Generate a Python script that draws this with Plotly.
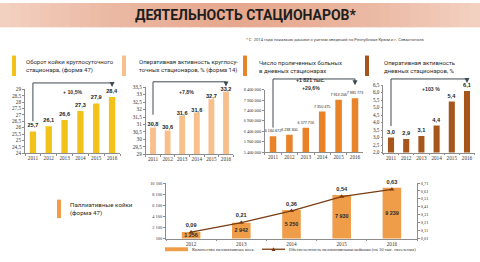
import plotly.graph_objects as go

W, H = 480, 262

# ---------------- data ----------------
years = ["2011", "2012", "2013", "2014", "2015", "2016"]
turnover = [25.7, 26.1, 26.6, 27.3, 27.9, 28.4]
turnover_labels = ["25,7", "26,1", "26,6", "27,3", "27,9", "28,4"]
surg_24h = [30.8, 30.6, 31.6, 31.8, 32.7, 33.2]
surg_24h_labels = ["30,8", "30,6", "31,6", "31,6", "32,7", "33,2"]
day_patients = [6160672, 6238300, 6577716, 7350475, 7913206, 7981773]
day_patients_labels = ["6 160 672", "6 238 300", "6 577 716", "7 350 475", "7 913 206", "7 981 773"]
surg_day = [3.0, 2.9, 3.1, 3.8, 5.4, 6.1]
surg_day_labels = ["3,0", "2,9", "3,1", "4,4", "5,4", "6,1"]

pal_years = ["2012", "2013", "2014", "2015", "2016"]
pal_beds = [1256, 2942, 5250, 7930, 9239]
pal_rate = [0.09, 0.21, 0.36, 0.54, 0.63]
pal_names = ["Количество паллиативных коек",
             "Обеспеченность паллиативными койками (на 10 тыс. населения)"]

bracket_texts = [["+ 10,5%"], ["+7,8%"], ["+1 821 тыс.", "+29,6%"], ["+103 %"]]
chart_titles = [
    "Оборот койки круглосуточного<br>стационара, (форма 47)",
    "Оперативная активность круглосу-<br>точных стационаров, % (форма 14)",
    "Число пролеченных больных<br>в дневных стационарах",
    "Оперативная активность<br>дневных стационаров, %",
]
colors = ["#F2C21B", "#F6BF8C", "#E8832A", "#A6561B"]
pal_bar_color = "#F09D4A"
pal_line_color = "#7A3C12"


def xd(a, b):
    return [a / W, b / W]


def yd(top, bottom):
    return [1 - bottom / H, 1 - top / H]


fig = go.Figure()

tick_font = dict(family="Liberation Serif", size=5.2, color="#333")
axis_common = dict(showline=True, linecolor="#8c8c8c", linewidth=0.8, ticks="outside",
                   ticklen=2, tickcolor="#8c8c8c", showgrid=False, zeroline=False,
                   tickfont=tick_font, fixedrange=True)

specs = [
    dict(x=(25, 120), y=(88.7, 154.3), r=(24, 29), dt=0.5, fmt="", vals=turnover, lab=turnover_labels),
    dict(x=(145.7, 233.3), y=(86.5, 155.5), r=(29, 33.5), dt=0.5, fmt="", vals=surg_24h, lab=surg_24h_labels),
    dict(x=(264.8, 363.2), y=(89, 153.3), r=(5400000, 8400000), dt=500000, fmt=",d", vals=day_patients, lab=day_patients_labels),
    dict(x=(383.4, 474.6), y=(84.3, 153.7), r=(2.0, 6.5), dt=0.5, fmt=".1f", vals=surg_day, lab=surg_day_labels),
]
brackets = [
    dict(line=1.10, tip=1.035, off=0.16, tx=2.5, ty=[1.04]),
    dict(line=1.08, tip=1.01, off=0.19, tx=2.3, ty=[1.01]),
    dict(line=1.17, tip=1.07, off=0.14, tx=2.3, ty=[1.235, 1.10]),
    dict(line=1.09, tip=1.03, off=0.17, tx=2.6, ty=[1.02]),
]

layout = dict(
    width=W, height=H, margin=dict(l=0, r=0, t=0, b=0),
    paper_bgcolor="white", plot_bgcolor="rgba(0,0,0,0)",
    separators=", ", showlegend=False, font=dict(family="Roboto", color="#333"),
)
shapes = []
annotations = []

for i, s in enumerate(specs):
    n = "" if i == 0 else str(i + 1)
    xa, ya = "x" + n, "y" + n
    layout["xaxis" + n] = dict(axis_common, domain=xd(*s["x"]), anchor=ya, type="category",
                               tickson="boundaries", tickangle=0)
    ya_d = dict(axis_common, domain=yd(*s["y"]), anchor=xa, range=list(s["r"]),
                tick0=s["r"][0], dtick=s["dt"])
    if s["fmt"]:
        ya_d["tickformat"] = s["fmt"]
    if i == 2:
        ya_d["tickfont"] = dict(family="Liberation Serif", size=4.3, color="#333")
    layout["yaxis" + n] = ya_d
    fig.add_trace(go.Bar(
        x=years, y=s["vals"], xaxis=xa, yaxis=ya, marker=dict(color=colors[i], line=dict(width=0)),
        width=0.4, text=s["lab"], textposition="outside", cliponaxis=False, constraintext="none",
        textfont=dict(family="Arial", size=3.7 if i == 2 else 5.6, color="#222",
                      weight="normal" if i == 2 else "bold"),
        showlegend=False, hoverinfo="skip"))

    b = brackets[i]
    r0, r1 = s["r"]
    start = (s["vals"][0] - r0) / (r1 - r0) + b["off"]
    lc = "#3E4A52"
    shapes.append(dict(type="line", xref=xa, yref=ya + " domain", x0=0, x1=0, y0=start, y1=b["line"],
                       line=dict(color=lc, width=1)))
    shapes.append(dict(type="line", xref=xa, yref=ya + " domain", x0=0, x1=5, y0=b["line"], y1=b["line"],
                       line=dict(color=lc, width=1)))
    shapes.append(dict(type="line", xref=xa, yref=ya + " domain", x0=5, x1=5, y0=b["line"], y1=b["tip"] + 0.03,
                       line=dict(color=lc, width=1)))
    annotations.append(dict(xref=xa, yref=ya + " domain", x=5, y=b["tip"], ax=0, ay=-3, text="",
                            showarrow=True, arrowhead=2, arrowsize=1, arrowwidth=1, arrowcolor=lc))
    for t, ty in zip(bracket_texts[i], b["ty"]):
        annotations.append(dict(xref=xa, yref=ya + " domain", x=b["tx"], y=ty, text="<b>" + t + "</b>",
                                showarrow=False, font=dict(family="Arial", size=5.2, color="#333")))

title_pos = [(12, 24), (122, 137), (243, 257), (365, 382)]
for i, (mx, tx) in enumerate(title_pos):
    shapes.append(dict(type="rect", xref="paper", yref="paper", x0=mx / W, x1=(mx + 4) / W,
                       y0=1 - 75 / H, y1=1 - 54 / H, fillcolor=colors[i], line=dict(width=0)))
    annotations.append(dict(xref="paper", yref="paper", x=tx / W, y=1 - 65 / H, xanchor="left",
                            yanchor="middle", align="left", text=chart_titles[i], showarrow=False,
                            font=dict(family="Roboto", size=6.0, color="#2a2a2a")))

# bottom chart
layout["xaxis5"] = dict(axis_common, domain=xd(166, 417), anchor="y5", type="category", tickson="boundaries",
                        tickangle=0, tickfont=dict(family="Liberation Serif", size=5.2, color="#333"))
layout["yaxis5"] = dict(axis_common, domain=yd(185, 242), anchor="x5", range=[100, 10100], tick0=100,
                        dtick=2000, tickformat=",d", tickfont=dict(family="Liberation Serif", size=4.4, color="#333"))
layout["yaxis6"] = dict(axis_common, domain=yd(185, 242), anchor="x5", overlaying="y5", side="right",
                        range=[0.01, 0.71], tick0=0.01, dtick=0.1, tickformat=".2f",
                        tickfont=dict(family="Liberation Serif", size=4.4, color="#333"))

fig.add_trace(go.Bar(x=pal_years, y=pal_beds, xaxis="x5", yaxis="y5", width=0.37,
                     marker=dict(color=pal_bar_color, line=dict(width=0)),
                     name=pal_names[0], hoverinfo="skip"))
fig.add_trace(go.Scatter(x=pal_years, y=[v / 2 for v in pal_beds], xaxis="x5", yaxis="y5", mode="text",
                         text=[f"{v:,}".replace(",", " ") for v in pal_beds], showlegend=False,
                         textfont=dict(family="Arial", size=5.4, color="#2a2a2a", weight="bold"),
                         hoverinfo="skip", cliponaxis=False))
fig.add_trace(go.Scatter(x=pal_years, y=pal_rate, xaxis="x5", yaxis="y6", mode="lines+markers+text",
                         line=dict(color=pal_line_color, width=1.3),
                         marker=dict(symbol="triangle-up", size=4.5, color=pal_line_color),
                         texttemplate="%{y:.2f}", textposition="top center",
                         textfont=dict(family="Arial", size=5.6, color="#2a2a2a", weight="bold"),
                         cliponaxis=False, name=pal_names[1], hoverinfo="skip"))

shapes.append(dict(type="rect", xref="paper", yref="paper", x0=57 / W, x1=61 / W,
                   y0=1 - 221 / H, y1=1 - 202 / H, fillcolor=pal_bar_color, line=dict(width=0)))
annotations.append(dict(xref="paper", yref="paper", x=68 / W, y=1 - 212 / H, xanchor="left", yanchor="middle",
                        align="left", text="Паллиативные койки<br>(форма 47)", showarrow=False,
                        font=dict(family="Roboto", size=6.2, color="#2a2a2a")))

# manual legend for the bottom chart
ly = 1 - 253 / H
leg_font = dict(family="Liberation Serif", size=4.6, color="#333")
shapes.append(dict(type="rect", xref="paper", yref="paper", x0=165 / W, x1=188 / W,
                   y0=ly - 2 / H, y1=ly + 2 / H, fillcolor=pal_bar_color, line=dict(width=0)))
annotations.append(dict(xref="paper", yref="paper", x=190 / W, y=ly, xanchor="left", yanchor="middle",
                        text=pal_names[0], showarrow=False, font=leg_font))
shapes.append(dict(type="line", xref="paper", yref="paper", x0=262 / W, x1=285 / W, y0=ly, y1=ly,
                   line=dict(color=pal_line_color, width=1.3)))
shapes.append(dict(type="path", xref="paper", yref="paper",
                   path="M %f %f L %f %f L %f %f Z" % (271.5 / W, ly - 1.8 / H, 275.5 / W, ly - 1.8 / H,
                                                       273.5 / W, ly + 2 / H),
                   fillcolor=pal_line_color, line=dict(width=0)))
annotations.append(dict(xref="paper", yref="paper", x=287 / W, y=ly, xanchor="left", yanchor="middle",
                        text=pal_names[1], showarrow=False, font=leg_font))

def mix(c1, c2, t):
    a = [int(c1[k:k + 2], 16) for k in (1, 3, 5)]
    b = [int(c2[k:k + 2], 16) for k in (1, 3, 5)]
    return "#%02x%02x%02x" % tuple(round(a[j] + (b[j] - a[j]) * t) for j in range(3))

nstrip = 48
for k in range(nstrip):
    t = abs((k + 0.5) / nstrip - 0.5) * 2
    c = mix("#E6A98F", "#F3D2C3", t ** 1.5)
    shapes.append(dict(type="rect", xref="paper", yref="paper", x0=k / nstrip, x1=(k + 1) / nstrip + 0.002,
                       y0=1 - 25 / H, y1=1, fillcolor=c, line=dict(width=0), layer="below"))

annotations.append(dict(xref="paper", yref="paper", x=246 / W, y=1 - 12.5 / H, text="<b>ДЕЯТЕЛЬНОСТЬ СТАЦИОНАРОВ*</b>",
                        showarrow=False, xanchor="center", yanchor="middle",
                        font=dict(family="Roboto", size=14, color="#1e1e1e")))
annotations.append(dict(xref="paper", yref="paper", x=244 / W, y=1 - 38 / H, xanchor="left", yanchor="middle",
                        text="* С  2014 года показаны данные с учетом сведений по Республике Крым и г. Севастополь",
                        showarrow=False, font=dict(family="Roboto", size=4.2, color="#444")))

layout["shapes"] = shapes
layout["annotations"] = annotations
fig.update_layout(**layout)
fig.write_html("out.html")
